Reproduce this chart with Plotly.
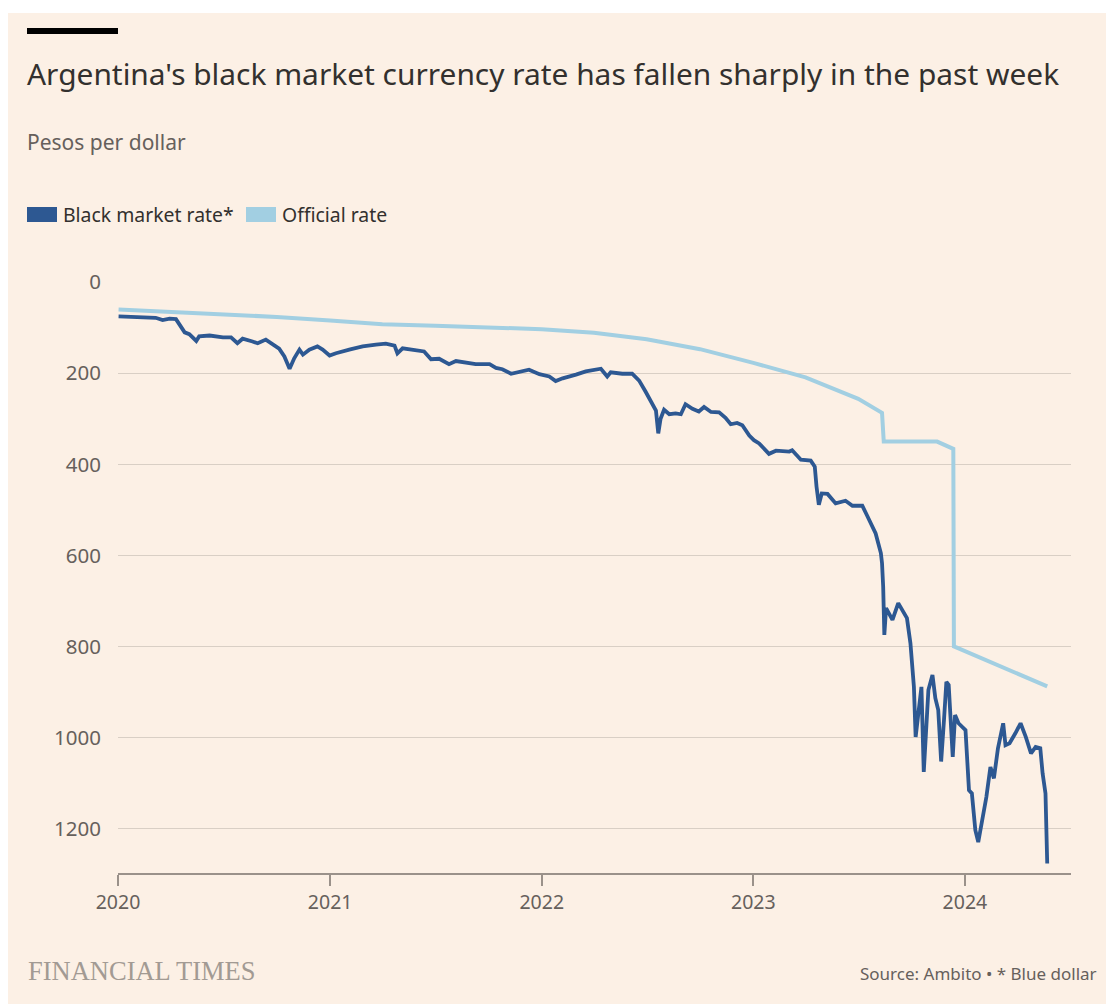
import plotly.graph_objects as go

# Blue-dollar (black market) rate, pesos per US dollar
black_dates = [
    "2020-01-02", "2020-02-07", "2020-03-06", "2020-03-18", "2020-03-30", "2020-04-10",
    "2020-04-19", "2020-04-25", "2020-05-03", "2020-05-15", "2020-05-20", "2020-06-07",
    "2020-06-30", "2020-07-14", "2020-07-25", "2020-08-03", "2020-08-20", "2020-08-29",
    "2020-09-12", "2020-09-24", "2020-10-05", "2020-10-14", "2020-10-23", "2020-10-31",
    "2020-11-09", "2020-11-15", "2020-11-26", "2020-12-10", "2020-12-19", "2020-12-31",
    "2021-01-11", "2021-02-03", "2021-02-26", "2021-03-21", "2021-04-07", "2021-04-22",
    "2021-04-27", "2021-05-06", "2021-05-29", "2021-06-12", "2021-06-24", "2021-07-08",
    "2021-07-25", "2021-08-06", "2021-09-09", "2021-10-03", "2021-10-14", "2021-10-25",
    "2021-11-09", "2021-11-23", "2021-12-10", "2021-12-28", "2022-01-14", "2022-01-25",
    "2022-02-06", "2022-03-01", "2022-03-18", "2022-04-13", "2022-04-24", "2022-04-30",
    "2022-05-20", "2022-06-06", "2022-06-18", "2022-06-29", "2022-07-08", "2022-07-17",
    "2022-07-21", "2022-07-25", "2022-07-31", "2022-08-09", "2022-08-20", "2022-08-29",
    "2022-09-06", "2022-09-18", "2022-09-29", "2022-10-08", "2022-10-20", "2022-11-03",
    "2022-11-14", "2022-11-23", "2022-12-04", "2022-12-13", "2022-12-25", "2023-01-02",
    "2023-01-11", "2023-01-28", "2023-02-09", "2023-03-04", "2023-03-09", "2023-03-24",
    "2023-04-10", "2023-04-17", "2023-04-20", "2023-04-24", "2023-04-29", "2023-05-09",
    "2023-05-23", "2023-06-09", "2023-06-21", "2023-07-08", "2023-07-16", "2023-07-25",
    "2023-07-31", "2023-08-09", "2023-08-11", "2023-08-13", "2023-08-15", "2023-08-18",
    "2023-08-29", "2023-09-08", "2023-09-23", "2023-09-29", "2023-10-05", "2023-10-08",
    "2023-10-12", "2023-10-18", "2023-10-22", "2023-10-30", "2023-11-06", "2023-11-11",
    "2023-11-16", "2023-11-21", "2023-11-26", "2023-11-30", "2023-12-04", "2023-12-07",
    "2023-12-11", "2023-12-15", "2023-12-21", "2024-01-02", "2024-01-08", "2024-01-13",
    "2024-01-19", "2024-01-24", "2024-01-31", "2024-02-07", "2024-02-14", "2024-02-20",
    "2024-02-27", "2024-03-07", "2024-03-11", "2024-03-18", "2024-03-28", "2024-04-06",
    "2024-04-15", "2024-04-24", "2024-05-02", "2024-05-10", "2024-05-14", "2024-05-19",
    "2024-05-22",
]
black_rate = [
    75, 77, 78, 83, 80, 81,
    97, 110, 114, 129, 119, 117,
    121, 121, 134, 124, 130, 134,
    126, 137, 146, 163, 190, 167,
    148, 159, 148, 141, 148, 161,
    156, 148, 141, 137, 135, 139,
    156, 145, 150, 152, 169, 168,
    180, 173, 180, 180, 188, 191,
    201, 196, 192, 202, 207, 217,
    211, 203, 196, 190, 207, 198,
    201, 201, 216, 240, 262, 282,
    332, 300, 280, 290, 288, 290,
    268, 278, 284, 274, 285, 286,
    298, 312, 309, 314, 337, 347,
    354, 377, 370, 372, 369, 390,
    392, 405, 449, 489, 464, 465,
    486, 480, 491, 491, 512, 537,
    552, 595, 617, 669, 775, 716,
    742, 705, 738, 793, 889, 999,
    960, 889, 1076, 896, 863, 914,
    940, 1053, 960, 878, 885, 947,
    1043, 951, 969, 984, 1116, 1123,
    1204, 1230, 1182, 1131, 1065, 1090,
    1024, 969, 1017, 1013, 991, 969,
    999, 1035, 1021, 1024, 1079, 1123,
    1277,
]

# Official wholesale rate, pesos per US dollar
official_dates = [
    "2020-01-02", "2020-04-01", "2020-07-01", "2020-10-01", "2021-01-01", "2021-04-01",
    "2021-07-01", "2021-10-01", "2022-01-01", "2022-04-01", "2022-07-01", "2022-10-01",
    "2023-01-01", "2023-04-01", "2023-07-01", "2023-08-11", "2023-08-14", "2023-11-14",
    "2023-12-12", "2023-12-13", "2024-05-22",
]
official_rate = [
    59.8, 64.5, 70.5, 76.2, 84, 92,
    95.7, 98.7, 103, 111, 125, 147,
    177, 209, 256, 287, 350, 350,
    366, 800, 888,
]

year_ticks = ["2020-01-01", "2021-01-01", "2022-01-01", "2023-01-01", "2024-01-01"]
year_labels = ["2020", "2021", "2022", "2023", "2024"]
rate_ticks = [0, 200, 400, 600, 800, 1000, 1200]

DARK = "#2D5892"
LIGHT = "#A2CFE2"
PAPER = "#FCF0E5"
TEXT = "#66605C"
INK = "#33302E"
FONT = "Noto Sans"

W, H = 1106, 1004
L, R, T, B = 118, 35, 282, 131
PW, PH = W - L - R, H - T - B


def px(x):
    return (x - L) / PW


def py(y):
    return (H - B - y) / PH


fig = go.Figure()
fig.add_trace(go.Scatter(x=official_dates, y=official_rate, mode="lines",
                         line=dict(color=LIGHT, width=4), name="Official rate",
                         showlegend=False))
fig.add_trace(go.Scatter(x=black_dates, y=black_rate, mode="lines",
                         line=dict(color=DARK, width=3.8), name="Black market rate*",
                         showlegend=False))

shapes = [
    # page background with thin white margin at top and left
    dict(type="rect", xref="paper", yref="paper", x0=px(8), x1=px(W + 5),
         y0=py(H + 5), y1=py(13), fillcolor=PAPER, line_width=0, layer="below"),
    # black bar above the title
    dict(type="rect", xref="paper", yref="paper", x0=px(27), x1=px(118),
         y0=py(34), y1=py(28), fillcolor="#000000", line_width=0),
    # legend keys
    dict(type="rect", xref="paper", yref="paper", x0=px(27), x1=px(57),
         y0=py(222), y1=py(207), fillcolor=DARK, line_width=0),
    dict(type="rect", xref="paper", yref="paper", x0=px(246), x1=px(276),
         y0=py(222), y1=py(207), fillcolor=LIGHT, line_width=0),
]

annotations = [
    dict(text="Argentina's black market currency rate has fallen sharply in the past week",
         x=px(25), y=py(73), font=dict(size=29.9, color=INK, family=FONT)),
    dict(text="Pesos per dollar", x=px(25), y=py(142),
         font=dict(size=21, color=TEXT, family=FONT)),
    dict(text="Black market rate*", x=px(61), y=py(215),
         font=dict(size=19.4, color=INK, family=FONT)),
    dict(text="Official rate", x=px(280), y=py(215),
         font=dict(size=19.4, color=INK, family=FONT)),
    dict(text="FINANCIAL TIMES", x=px(26), y=py(971),
         font=dict(size=26.5, color="#A29A93", family="Liberation Serif")),
    dict(text="Source: Ambito • * Blue dollar", x=px(1099), y=py(973), xanchor="right",
         font=dict(size=17, color=TEXT, family=FONT)),
]
for a in annotations:
    a.setdefault("xanchor", "left")
    a.update(xref="paper", yref="paper", yanchor="middle", showarrow=False)

fig.update_layout(
    width=W, height=H,
    margin=dict(l=L, r=R, t=T, b=B),
    paper_bgcolor="#FFFFFF",
    plot_bgcolor="rgba(0,0,0,0)",
    shapes=shapes,
    annotations=annotations,
    font=dict(family=FONT, color=TEXT),
    xaxis=dict(
        type="date", range=["2020-01-01", "2024-07-02"],
        tickvals=year_ticks, ticktext=year_labels,
        ticks="outside", ticklen=11, tickwidth=1.5, tickcolor="#9A918A",
        showline=True, linecolor="#9A918A", linewidth=1.5,
        showgrid=False, zeroline=False,
        tickfont=dict(size=19.5, color=TEXT, family=FONT),
    ),
    yaxis=dict(
        range=[1298, -0.6], tickvals=rate_ticks,
        showgrid=True, gridcolor="#D9CFC5", gridwidth=1.2,
        zeroline=False, showline=False, ticks="",
        ticklabelstandoff=16,
        tickfont=dict(size=20.5, color=TEXT, family=FONT),
    ),
    hovermode=False,
)

fig.write_html("out.html")
